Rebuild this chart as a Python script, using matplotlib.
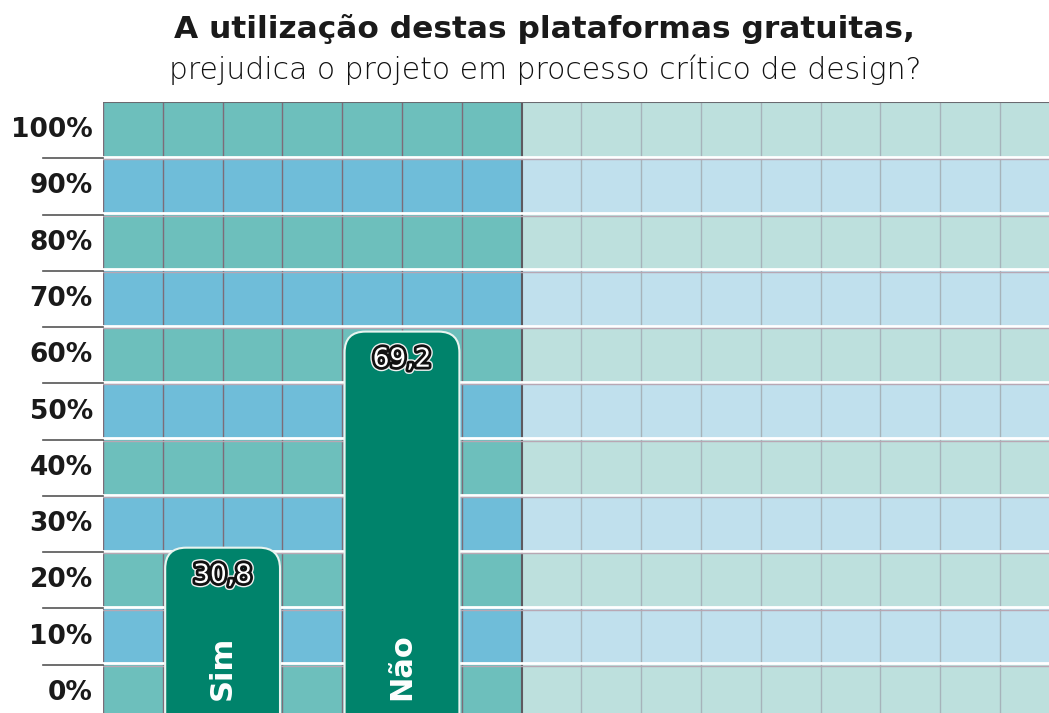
import matplotlib.pyplot as plt
import matplotlib.patheffects as pe
from matplotlib.patches import Rectangle, FancyBboxPatch
import numpy as np

# data
categories = ['Sim', 'Não']
values = [30.8, 69.2]
value_labels = ['30,8', '69,2']
tick_values = [0, 10, 20, 30, 40, 50, 60, 70, 80, 90, 100]
tick_labels = [f'{v}%' for v in tick_values]

title = 'A utilização destas plataformas gratuitas,'
subtitle = 'prejudica o projeto em processo crítico de design?'

# layout (grid columns in data units, rows of 10%)
n_cols = 16
n_dark = 7
bar_slots = [2, 5]
bar_width = 1.92
px_x = 59.8
px_y = 5.627

dark_teal, dark_blue = '#6dbfbc', '#6fbdd9'
light_teal, light_blue = '#bde0dd', '#c0e0ed'
bar_color = '#00836b'

plt.rcParams['font.family'] = ['DejaVu Sans']

fig = plt.figure(figsize=(10.49, 7.13), dpi=100)
ax = fig.add_axes([103 / 1049, 0, 1 - 103 / 1049, (713 - 102) / 713])
ax.set_xlim(0, 946 / px_x)
ax.set_ylim(8 / px_y, 110)
ax.axis('off')

# cells
for r in range(len(tick_values)):
    for c in range(n_cols):
        if c < n_dark:
            col = dark_teal if r % 2 == 0 else dark_blue
        else:
            col = light_teal if r % 2 == 0 else light_blue
        ax.add_patch(Rectangle((c, r * 10), 1, 10, facecolor=col, edgecolor='none', zorder=1))

# grid lines
for c in range(n_cols + 1):
    if c < n_dark:
        ax.axvline(c, color='#7d6c78', lw=1, zorder=2)
    elif c == n_dark:
        ax.axvline(c, color='#5e5a60', lw=1.5, zorder=2)
    else:
        ax.axvline(c, color='#a6b3ba', lw=1, zorder=2)
for k in range(1, len(tick_values)):
    y = k * 10
    ax.axhline(y + 0.25, color='white', lw=2, zorder=2)
    ax.axhline(y - 0.2, color='#b8a7b3', lw=1, zorder=2)
    ax.plot([-1.0, 0], [y, y], color='#555555', lw=1.2, clip_on=False, zorder=2)
ax.axhline(110, color='#6a6a70', lw=1.5, zorder=2)

# bars with rounded tops
for slot, v, cat, lab in zip(bar_slots, values, categories, value_labels):
    x0 = slot - bar_width / 2
    bar = FancyBboxPatch((x0, -10), bar_width, v + 10,
                         boxstyle='round,pad=0,rounding_size=0.35',
                         mutation_aspect=px_x / px_y,
                         facecolor=bar_color, edgecolor='#e8f4f0', lw=1.5, zorder=3)
    ax.add_patch(bar)
    ax.text(slot, v - 5, lab, ha='center', va='center', fontsize=19, fontweight='normal',
            color='white', zorder=4,
            path_effects=[pe.Stroke(linewidth=6, foreground='#f0f0f0'),
                          pe.Stroke(linewidth=4, foreground='#111111'), pe.Normal()])
    ax.text(slot, 3.7, cat, ha='center', va='bottom', rotation=90, fontsize=22,
            fontweight='bold', color='white', zorder=4)

# y labels
for v, lab in zip(tick_values, tick_labels):
    ax.text(-0.17, v + 5, lab, ha='right', va='center', fontsize=19, fontweight='bold',
            color='#1a1a1a', clip_on=False)

fig.text(545 / 1049, 1 - 29 / 713, title, ha='center', va='center', fontsize=22.5,
         fontweight='bold', color='#1a1a1a')
fig.text(545 / 1049, 1 - 70 / 713, subtitle, ha='center', va='center', fontsize=21.5,
         fontweight=200, color='#111111')

fig.savefig('out.png', dpi=100)
